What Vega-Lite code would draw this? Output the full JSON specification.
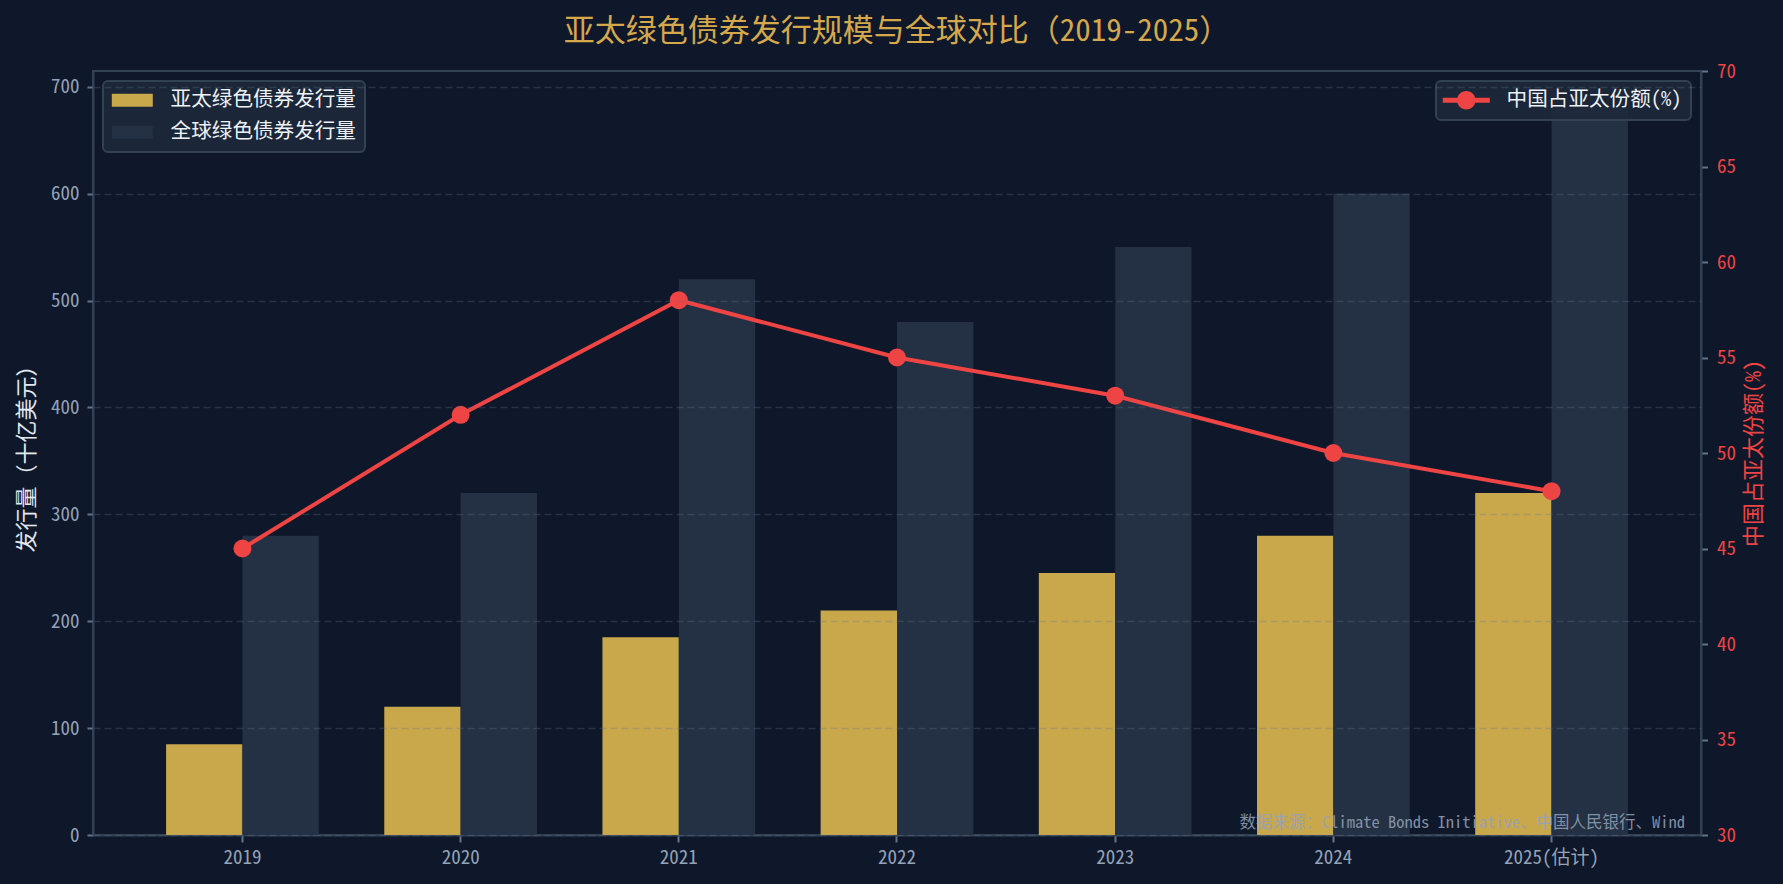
{
  "$schema": "https://vega.github.io/schema/vega-lite/v6.json",
  "width": 1608,
  "height": 764,
  "autosize": {"type": "none"},
  "padding": {"left": 93, "top": 71, "right": 82, "bottom": 49},
  "background": "#0f172a",
  "title": {
    "text": "亚太绿色债券发行规模与全球对比（2019-2025）",
    "color": "#d4a84b",
    "fontSize": 31,
    "fontWeight": "normal",
    "font": "Noto Sans Mono CJK SC, Noto Sans CJK SC, sans-serif",
    "anchor": "middle",
    "offset": 14
  },
  "config": {
    "font": "Noto Sans Mono CJK SC, Noto Sans CJK SC, sans-serif",
    "view": {"stroke": "#334155", "strokeWidth": 2},
    "axis": {
      "domainColor": "#334155",
      "domainWidth": 2,
      "tickColor": "#64748b",
      "tickWidth": 2,
      "labelColor": "#94a3b8",
      "labelFontSize": 19,
      "titleFontSize": 22,
      "titleFontWeight": "normal",
      "titleColor": "#e2e8f0"
    },
    "legend": {
      "fillColor": "rgba(30,41,59,0.88)",
      "strokeColor": "#334155",
      "strokeWidth": 2,
      "cornerRadius": 5,
      "padding": 9,
      "labelColor": "#eef2f7",
      "labelFontSize": 20.6,
      "labelLimit": 400,
      "labelFont": "Noto Sans Mono CJK SC, Noto Sans CJK SC, sans-serif",
      "rowPadding": 11
    }
  },
  "datasets": {
    "bonds": [
      {"年份": "2019", "系列": "亚太绿色债券发行量", "发行量": 85},
      {"年份": "2019", "系列": "全球绿色债券发行量", "发行量": 280},
      {"年份": "2020", "系列": "亚太绿色债券发行量", "发行量": 120},
      {"年份": "2020", "系列": "全球绿色债券发行量", "发行量": 320},
      {"年份": "2021", "系列": "亚太绿色债券发行量", "发行量": 185},
      {"年份": "2021", "系列": "全球绿色债券发行量", "发行量": 520},
      {"年份": "2022", "系列": "亚太绿色债券发行量", "发行量": 210},
      {"年份": "2022", "系列": "全球绿色债券发行量", "发行量": 480},
      {"年份": "2023", "系列": "亚太绿色债券发行量", "发行量": 245},
      {"年份": "2023", "系列": "全球绿色债券发行量", "发行量": 550},
      {"年份": "2024", "系列": "亚太绿色债券发行量", "发行量": 280},
      {"年份": "2024", "系列": "全球绿色债券发行量", "发行量": 600},
      {"年份": "2025(估计)", "系列": "亚太绿色债券发行量", "发行量": 320},
      {"年份": "2025(估计)", "系列": "全球绿色债券发行量", "发行量": 680}
    ],
    "share": [
      {"年份": "2019", "指标": "中国占亚太份额(%)", "份额": 45},
      {"年份": "2020", "指标": "中国占亚太份额(%)", "份额": 52},
      {"年份": "2021", "指标": "中国占亚太份额(%)", "份额": 58},
      {"年份": "2022", "指标": "中国占亚太份额(%)", "份额": 55},
      {"年份": "2023", "指标": "中国占亚太份额(%)", "份额": 53},
      {"年份": "2024", "指标": "中国占亚太份额(%)", "份额": 50},
      {"年份": "2025(估计)", "指标": "中国占亚太份额(%)", "份额": 48}
    ],
    "note": [
      {"说明": "数据来源：Climate Bonds Initiative、中国人民银行、Wind"}
    ]
  },
  "layer": [
    {
      "data": {"name": "bonds"},
      "mark": {"type": "bar"},
      "encoding": {
        "x": {
          "field": "年份",
          "type": "nominal",
          "sort": null,
          "scale": {"paddingInner": 0.3, "paddingOuter": 0.335},
          "axis": {
            "title": null,
            "labelAngle": 0,
            "tickSize": 7,
            "labelPadding": 6,
            "grid": false
          }
        },
        "xOffset": {
          "field": "系列",
          "type": "nominal",
          "sort": ["亚太绿色债券发行量", "全球绿色债券发行量"],
          "scale": {"paddingInner": 0, "paddingOuter": 0}
        },
        "y": {
          "field": "发行量",
          "type": "quantitative",
          "scale": {"domain": [0, 714.7], "nice": false, "zero": true},
          "axis": {
            "title": "发行量（十亿美元）",
            "values": [0, 100, 200, 300, 400, 500, 600, 700],
            "tickSize": 6,
            "labelPadding": 8,
            "titlePadding": 12,
            "grid": true,
            "gridColor": "#64748b",
            "gridOpacity": 0.3,
            "gridWidth": 1.5,
            "gridDash": [7, 4],
            "zindex": 1
          }
        },
        "color": {
          "field": "系列",
          "type": "nominal",
          "scale": {
            "domain": ["亚太绿色债券发行量", "全球绿色债券发行量"],
            "range": ["#c9a84c", "#243044"]
          },
          "legend": {
            "title": null,
            "orient": "top-left",
            "offset": 10,
            "symbolType": "M-2.05,-0.65H2.05V0.65H-2.05Z",
            "symbolSize": 400,
            "symbolStrokeWidth": 0,
            "symbolOffset": 10,
            "labelOffset": 28
          }
        }
      }
    },
    {
      "data": {"name": "share"},
      "mark": {
        "type": "line",
        "strokeWidth": 4,
        "point": {"filled": true, "size": 324, "opacity": 1}
      },
      "encoding": {
        "x": {"field": "年份", "type": "nominal", "sort": null},
        "y": {
          "field": "份额",
          "type": "quantitative",
          "scale": {"domain": [30, 70], "nice": false, "zero": false},
          "axis": {
            "orient": "right",
            "title": "中国占亚太份额(%)",
            "titleColor": "#ef4444",
            "titleAngle": 270,
            "titleBaseline": "top",
            "titlePadding": 8,
            "labelColor": "#ef4444",
            "values": [30, 35, 40, 45, 50, 55, 60, 65, 70],
            "tickSize": 6.5,
            "labelPadding": 9,
            "grid": false
          }
        },
        "color": {
          "field": "指标",
          "type": "nominal",
          "scale": {"domain": ["中国占亚太份额(%)"], "range": ["#ef4444"]},
          "legend": {
            "title": null,
            "orient": "top-right",
            "offset": 10,
            "symbolType": "M-2.35,-0.25H-0.9V0.25H-2.35Z M0.9,-0.25H2.35V0.25H0.9Z M0.93,0A0.93,0.93,0,1,1,-0.93,0A0.93,0.93,0,1,1,0.93,0Z",
            "symbolSize": 400,
            "symbolOffset": 11,
            "labelOffset": 30,
            "encode": {
              "symbols": {
                "update": {
                  "fill": {"value": "#ef4444"},
                  "stroke": {"value": "transparent"},
                  "strokeWidth": {"value": 0},
                  "opacity": {"value": 1}
                }
              }
            }
          }
        }
      }
    },
    {
      "data": {"name": "note"},
      "mark": {
        "type": "text",
        "align": "right",
        "baseline": "bottom",
        "fontSize": 16.5,
        "color": "#94a3b8",
        "opacity": 0.85,
        "x": {"expr": "width - 16"},
        "y": {"expr": "height - 4"}
      },
      "encoding": {"text": {"field": "说明"}}
    }
  ],
  "resolve": {"scale": {"y": "independent", "color": "independent"}}
}
